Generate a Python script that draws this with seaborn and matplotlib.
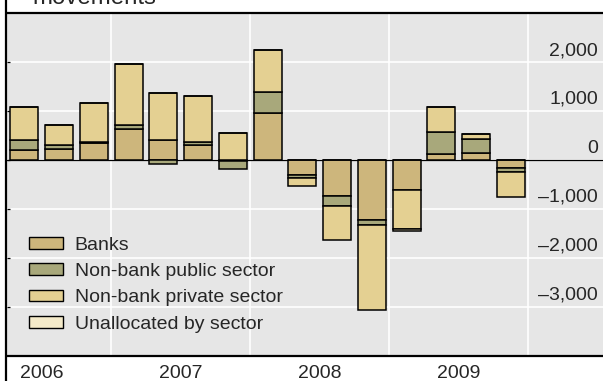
import numpy as np
import matplotlib
matplotlib.use("Agg")
import matplotlib.pyplot as plt
import seaborn as sns
from matplotlib.transforms import ScaledTranslation
from matplotlib.patches import Patch
from matplotlib.lines import Line2D

# ---- data (USD bn, quarterly) ----
quarters = ["Q2 2006", "Q3 2006", "Q4 2006", "Q1 2007", "Q2 2007", "Q3 2007", "Q4 2007",
            "Q1 2008", "Q2 2008", "Q3 2008", "Q4 2008", "Q1 2009", "Q2 2009", "Q3 2009", "Q4 2009"]
banks = [195, 224, 347, 633, 408, 299, -25, 959, -300, -729, -1220, -612, 116, 136, -170]
public = [218, 75, 27, 75, -80, 61, -155, 429, -60, -204, -116, 0, 449, 286, -80]
private = [667, 422, 789, 1259, 952, 939, 557, 850, -180, -694, -1720, -796, 510, 102, -500]
unallocated = [0, 0, 0, 0, 0, 0, 0, 0, 0, 0, 0, -35, 0, 0, 0]
series_names = ["Banks", "Non-bank public sector", "Non-bank private sector", "Unallocated by sector"]
series_colors = ["#cdb67c", "#a8a87b", "#e4d092", "#f4eac9"]
year_labels = ["2006", "2007", "2008", "2009"]
ytick_values = [-3000, -2000, -1000, 0, 1000, 2000]
ytick_labels = ["\u20133,000", "\u20132,000", "\u20131,000", "0", "1,000", "2,000"]
title_tail = "movements"

sns.set_style("white")
plt.rcParams["font.family"] = ["Liberation Sans", "DejaVu Sans"]

W, H = 603, 381
fig = plt.figure(figsize=(W / 100, H / 100), dpi=100)
ax = fig.add_axes([7 / W, 25 / H, 596 / W, 343 / H])
ax.set_facecolor("#e6e6e6")

n = len(quarters)
pos_base = np.zeros(n)
neg_base = np.zeros(n)
for name, vals, col in zip(series_names, [banks, public, private, unallocated], series_colors):
    v = np.asarray(vals, dtype=float)
    bottom = np.where(v >= 0, pos_base, neg_base)
    sns.barplot(x=quarters, y=v, order=quarters, bottom=bottom, color=col, saturation=1,
                edgecolor="black", linewidth=1.1, width=0.8, errorbar=None, ax=ax, zorder=3)
    pos_base += np.clip(v, 0, None)
    neg_base += np.clip(v, None, 0)

ax.axhline(0, color="black", lw=0.9, zorder=2)

ax.set_xlim(-0.5, -0.5 + 596 / 34.75)
ax.set_ylim(-4000, 3000)
ax.set_xlabel("")
ax.set_ylabel("")

# x ticks: year boundaries (major), quarter boundaries (minor), year labels on minor
major_x = [2.5, 6.5, 10.5, 14.5]
minor_x = [0.5, 1.5, 3.5, 4.5, 5.5, 7.5, 8.5, 9.5, 11.5, 12.5, 13.5, 15.5]
label_pos = [0.5, 4.5, 8.5, 12.5]
ax.set_xticks(major_x, labels=[""] * len(major_x))
minor_lab = [year_labels[label_pos.index(p)] if p in label_pos else "" for p in minor_x]
ax.set_xticks(minor_x, labels=minor_lab, minor=True)
ax.tick_params(axis="x", which="major", direction="in", length=16, width=0.9, color="black")
ax.tick_params(axis="x", which="minor", direction="in", length=8, width=0.9, color="black",
               labelsize=14, pad=6.5)

ax.set_yticks(ytick_values, labels=ytick_labels)
ax.tick_params(axis="y", which="major", left=True, right=False, labelleft=False, labelright=True,
               direction="in", length=2.5, width=0.9, color="black", labelsize=14, pad=0)
off = ScaledTranslation(-5 / 100, 7 / 100, fig.dpi_scale_trans)
for t in ax.yaxis.get_major_ticks():
    t.label2.set_horizontalalignment("right")
    t.label2.set_verticalalignment("baseline")
    t.label2.set_transform(t.label2.get_transform() + off)

ax.grid(True, which="major", axis="both", color="white", lw=1.2)
ax.set_axisbelow(True)

for s in ["left", "right"]:
    ax.spines[s].set_visible(False)
for s in ["top", "bottom"]:
    ax.spines[s].set_visible(True)
    ax.spines[s].set_color("black")
    ax.spines[s].set_linewidth(1.6)

fig.add_artist(Line2D([6 / W, 6 / W], [0, 1], transform=fig.transFigure, color="black", lw=1.6))

handles = [Patch(facecolor=c, edgecolor="black", linewidth=1.0) for c in series_colors]
ax.legend(handles, series_names, loc="lower left", bbox_to_anchor=(0.037, 0.068),
          frameon=False, fontsize=14, handlelength=1.75, handleheight=0.55,
          handletextpad=0.6, labelspacing=0.48, borderaxespad=0, borderpad=0)

fig.text(32 / W, 1 - 4.5 / H, title_tail, fontsize=17.3, va="baseline", ha="left")

fig.savefig("out.png", dpi=100)
